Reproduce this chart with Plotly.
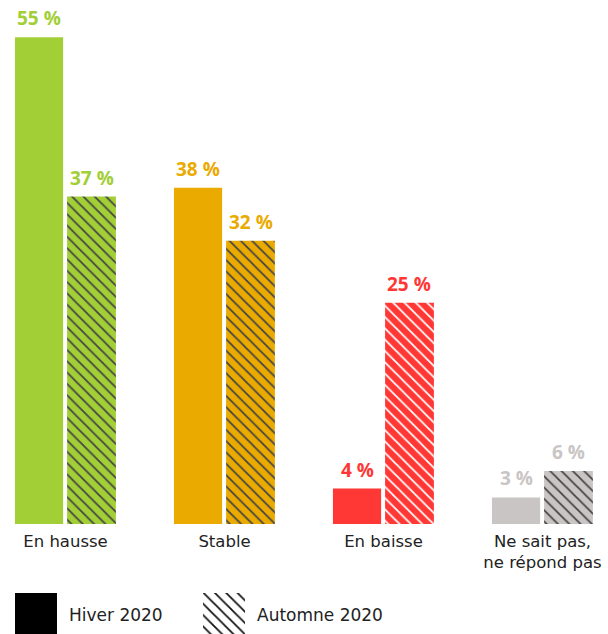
import plotly.graph_objects as go

categories = ["En hausse", "Stable", "En baisse", "Ne sait pas,<br>ne répond pas"]
hiver = [55, 38, 4, 3]
automne = [37, 32, 25, 6]
colors = ["#A2CE36", "#EAAA00", "#FF3835", "#C9C5C4"]
series_names = ["Hiver 2020", "Automne 2020"]

FONT_B = "Open Sans"
FONT = "DejaVu Sans"
W, H = 608, 634
base_px = 524

pos = list(range(len(categories)))
off_h, w_h = -0.318, 0.303
off_a, w_a = 0.010, 0.307

hatch = dict(shape="\\", fgcolor="#111111", fgopacity=1, size=8, solidity=0.22, fillmode="overlay")

fig = go.Figure()
fig.add_trace(go.Bar(x=pos, y=hiver, offset=off_h, width=w_h,
                     marker=dict(color=colors, line=dict(width=0)),
                     name=series_names[0], showlegend=False, hoverinfo="skip"))
fig.add_trace(go.Bar(x=pos, y=automne, offset=off_a, width=w_a,
                     marker=dict(color=colors, line=dict(width=0), pattern=hatch),
                     name=series_names[1], showlegend=False, hoverinfo="skip"))

annotations = []
for vals, off, w in ((hiver, off_h, w_h), (automne, off_a, w_a)):
    for i, v in enumerate(vals):
        annotations.append(dict(x=i + off + w / 2, y=v, xref="x", yref="y", text=f"<b>{v} %</b>",
                                showarrow=False, yanchor="bottom", yshift=4,
                                font=dict(family=FONT_B, size=19, color=colors[i])))

# custom legend swatches (secondary axes in the bottom strip)
leg_x = [36, 224]
fig.add_trace(go.Bar(x=[leg_x[0]], y=[1], width=42, xaxis="x2", yaxis="y2",
                     marker=dict(color="#000000", line=dict(width=0)),
                     showlegend=False, hoverinfo="skip"))
fig.add_trace(go.Bar(x=[leg_x[1]], y=[1], width=42, xaxis="x2", yaxis="y2",
                     marker=dict(color="#ffffff", line=dict(width=0), pattern=hatch),
                     showlegend=False, hoverinfo="skip"))
for lx, name in zip(leg_x, series_names):
    annotations.append(dict(x=lx + 31, y=0.5, xref="x2", yref="y2", text=name, showarrow=False,
                            xanchor="left", yanchor="middle", yshift=-1,
                            font=dict(family=FONT, size=17, color="#222222")))

fig.update_layout(
    width=W, height=H, margin=dict(l=0, r=0, t=0, b=0),
    paper_bgcolor="white", plot_bgcolor="white",
    barmode="overlay",
    annotations=annotations,
    xaxis=dict(range=[-0.412, 3.412], tickmode="array", tickvals=pos, ticktext=categories,
               showgrid=False, zeroline=False, showline=False, ticks="",
               tickfont=dict(family=FONT, size=16.5, color="#222222"), ticklabelstandoff=5,
               fixedrange=True),
    yaxis=dict(domain=[1 - base_px / H, 1], range=[0, 59.2], visible=False, fixedrange=True),
    xaxis2=dict(domain=[0, 1], range=[0, W], visible=False, anchor="y2", fixedrange=True),
    yaxis2=dict(domain=[0, 41 / H], range=[0, 1], visible=False, anchor="x2", fixedrange=True),
    showlegend=False,
)

fig.write_html("out.html")
